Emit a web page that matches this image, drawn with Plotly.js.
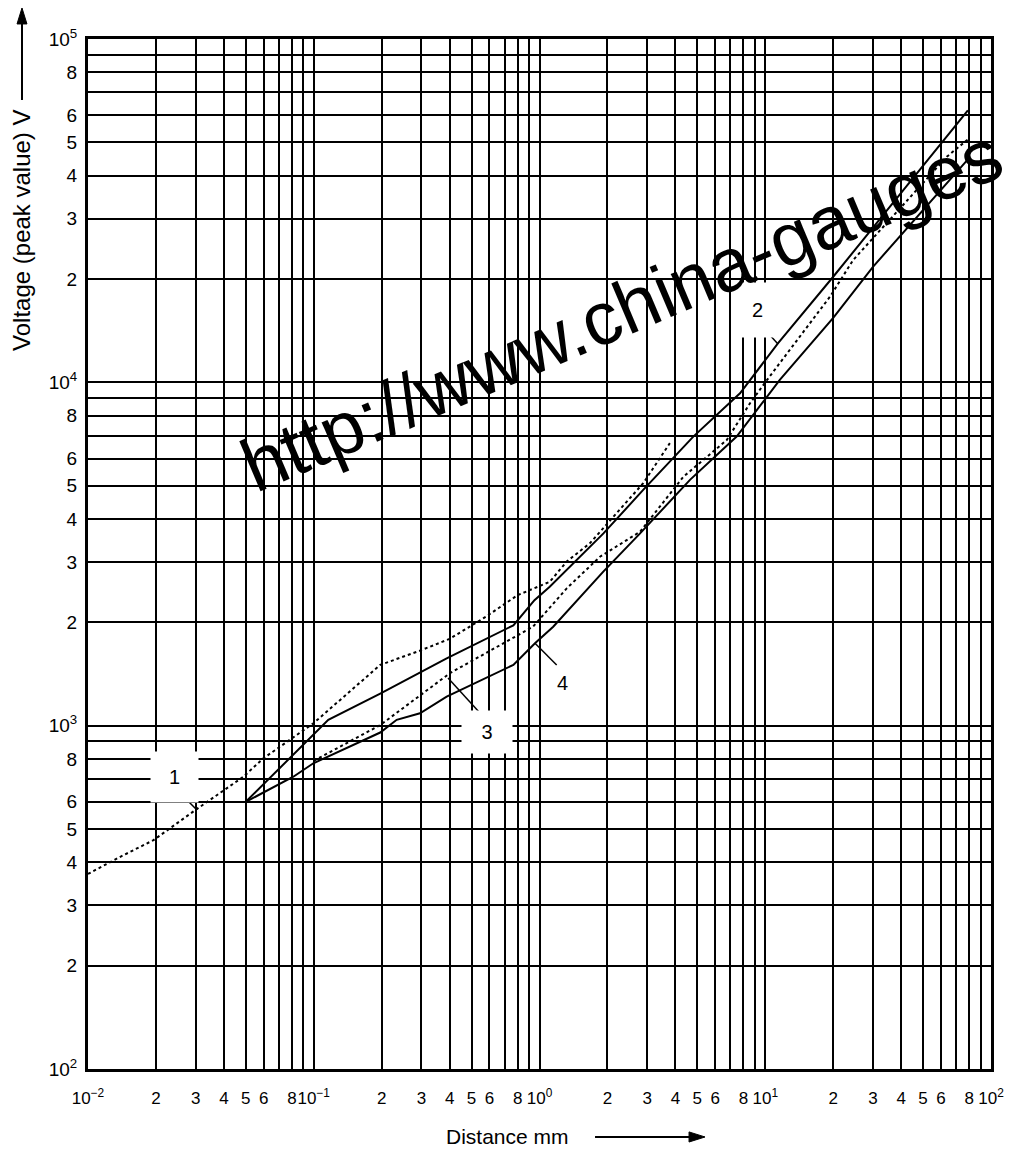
<!DOCTYPE html>
<html>
<head>
<meta charset="utf-8">
<script src="https://cdn.plot.ly/plotly-3.0.1.min.js"></script>
<style>
html,body{margin:0;padding:0;background:#fff;}
#chart{width:1017px;height:1173px;}
</style>
</head>
<body>
<div id="chart"></div>
<script>
// ---- Data ----
// Curve 1 (dotted, upper)
const curve1X = [0.01, 0.0139, 0.0195, 0.0298, 0.0488, 0.0598, 0.0996, 0.197, 0.30, 0.40, 0.58, 0.80, 1.11, 1.32, 1.67, 2.88, 3.78];
const curve1V = [370, 415, 464, 567, 710, 803, 1016, 1503, 1660, 1790, 2078, 2400, 2624, 3006, 3397, 5083, 6650];
// Curve 2 (solid, upper)
const curve2X = [0.05, 0.116, 0.197, 0.388, 0.766, 0.95, 1.11, 1.92, 2.88, 4.8, 7.73, 11.4, 20, 40, 79];
const curve2V = [600, 1040, 1240, 1570, 1960, 2320, 2540, 3630, 4860, 6950, 9290, 13000, 20300, 35800, 62000];
// Curve 3 (dotted, lower)
const curve3X = [0.1, 0.197, 0.401, 0.935, 1.32, 1.853, 2.79, 4.34, 6.75, 8.56, 10, 19.4, 24.5, 30, 63.7, 79];
const curve3V = [790, 1004, 1422, 1941, 2512, 3104, 3672, 5310, 6790, 8690, 10000, 17800, 22700, 26300, 45400, 51000];
// Curve 4 (solid, lower)
const curve4X = [0.05, 0.0812, 0.0996, 0.197, 0.233, 0.2955, 0.388, 0.766, 0.955, 1.15, 1.917, 2.79, 4.64, 7.47, 11.6, 20, 30, 79];
const curve4V = [600, 710, 777, 955, 1040, 1087, 1215, 1503, 1738, 1941, 2811, 3631, 5200, 6950, 10160, 15400, 21700, 44600];

const curveLabels = ['1', '2', '3', '4'];

// Labelled ticks (with grid lines)
const xTickVals = [0.01,0.02,0.03,0.04,0.05,0.06,0.08,
                   0.1,0.2,0.3,0.4,0.5,0.6,0.8,
                   1,2,3,4,5,6,8,
                   10,20,30,40,50,60,80,100];
const xTickText = ['10<sup>\u22122</sup>','2','3','4','5','6','8',
                   '10<sup>\u22121</sup>','2','3','4','5','6','8',
                   '10<sup>0</sup>','2','3','4','5','6','8',
                   '10<sup>1</sup>','2','3','4','5','6','8','10<sup>2</sup>'];
// Unlabelled grid lines
const xGridOnly = [0.07,0.09, 0.7,0.9, 7,9, 70,90];
const yTickVals = [100,200,300,400,500,600,800,
                   1000,2000,3000,4000,5000,6000,8000,
                   10000,20000,30000,40000,50000,60000,80000,100000];
const yTickText = ['10<sup>2</sup>','2','3','4','5','6','8',
                   '10<sup>3</sup>','2','3','4','5','6','8',
                   '10<sup>4</sup>','2','3','4','5','6','8','10<sup>5</sup>'];
const yGridOnly = [700,900, 7000,9000, 70000,90000];

const xTitle = 'Distance mm';
const yTitle = 'Voltage (peak value) V';
const watermark = 'http://www.china-gauges';

const FONT = 'Liberation Sans, Arial, Helvetica, sans-serif';

const traces = [
  {x: curve1X, y: curve1V, name: curveLabels[0], mode: 'lines', line: {color: '#000', width: 2, dash: 'dot'}},
  {x: curve2X, y: curve2V, name: curveLabels[1], mode: 'lines', line: {color: '#000', width: 2}},
  {x: curve3X, y: curve3V, name: curveLabels[2], mode: 'lines', line: {color: '#000', width: 2, dash: 'dot'}},
  {x: curve4X, y: curve4V, name: curveLabels[3], mode: 'lines', line: {color: '#000', width: 2}}
];

const axisCommon = {
  type: 'log',
  showgrid: true, gridcolor: '#000', gridwidth: 2,
  showline: true, linecolor: '#000', linewidth: 3, mirror: true,
  ticks: '', tickmode: 'array', tickangle: 0,
  zeroline: false, fixedrange: true
};

function ann(o) {
  return Object.assign({xref: 'paper', yref: 'paper', xanchor: 'center', yanchor: 'middle', showarrow: false}, o);
}
function pline(x0, y0, x1, y1, w) {
  return {type: 'line', xref: 'paper', yref: 'paper', x0: x0, y0: y0, x1: x1, y1: y1, line: {color: '#000', width: w}};
}
function ppath(p) {
  return {type: 'path', xref: 'paper', yref: 'paper', path: p, fillcolor: '#000', line: {color: '#000', width: 1}};
}

const layout = {
  width: 1017, height: 1173,
  margin: {l: 88, r: 26, t: 39, b: 104},
  paper_bgcolor: '#fff', plot_bgcolor: '#fff',
  showlegend: false, hovermode: false,
  xaxis: Object.assign({}, axisCommon, {
    range: [-2, 2], tickvals: xTickVals, ticktext: xTickText, ticklabelstandoff: 12,
    tickfont: {family: FONT, size: 17, color: '#000'},
    minor: {tickmode: 'array', tickvals: xGridOnly, showgrid: true, gridcolor: '#000', gridwidth: 2, ticks: ''}
  }),
  yaxis: Object.assign({}, axisCommon, {
    range: [2, 5], tickvals: yTickVals, ticktext: yTickText, ticklabelstandoff: 4,
    tickfont: {family: FONT, size: 19, color: '#000'},
    minor: {tickmode: 'array', tickvals: yGridOnly, showgrid: true, gridcolor: '#000', gridwidth: 2, ticks: ''}
  }),
  shapes: [
    // leader lines for curve labels
    pline(0.1074, 0.2631, 0.1207, 0.2515, 1.5),
    pline(0.4341, 0.3456, 0.3987, 0.3796, 1.5),
    pline(0.519, 0.3922, 0.495, 0.4133, 1.5),
    pline(0.753, 0.7146, 0.7641, 0.7039, 1.5),
    // axis-title arrows
    pline(-0.0731, 0.9408, -0.0731, 1.016, 2),
    ppath('M -0.0731 1.0301 L -0.0786 1.0146 L -0.0676 1.0146 Z'),
    pline(0.5615, -0.066, 0.667, -0.066, 2),
    ppath('M 0.6833 -0.066 L 0.6656 -0.0611 L 0.6656 -0.0709 Z')
  ],
  annotations: [
    // curve labels with white boxes interrupting the grid
    ann({x: 0.0963, y: 0.2835, text: curveLabels[0], bgcolor: '#fff', width: 45, height: 48,
         font: {family: FONT, size: 20, color: '#000'}}),
    ann({x: 0.7409, y: 0.7369, text: curveLabels[1], bgcolor: '#fff', width: 35, height: 52,
         font: {family: FONT, size: 20, color: '#000'}}),
    ann({x: 0.4419, y: 0.3272, text: curveLabels[2], bgcolor: '#fff', width: 48, height: 40,
         font: {family: FONT, size: 20, color: '#000'}}),
    ann({x: 0.526, y: 0.3748, text: curveLabels[3], font: {family: FONT, size: 20, color: '#000'}}),
    // axis titles
    ann({x: -0.0731, y: 0.8146, text: yTitle, textangle: -90, font: {family: FONT, size: 24, color: '#000'}}),
    ann({x: 0.4651, y: -0.066, text: xTitle, font: {family: FONT, size: 21, color: '#000'}}),
    // watermark
    ann({x: 0.5903, y: 0.737, text: watermark, textangle: -23, font: {family: FONT, size: 75, color: '#000'}})
  ]
};

Plotly.newPlot('chart', traces, layout, {staticPlot: true, displayModeBar: false});
</script>
</body>
</html>
